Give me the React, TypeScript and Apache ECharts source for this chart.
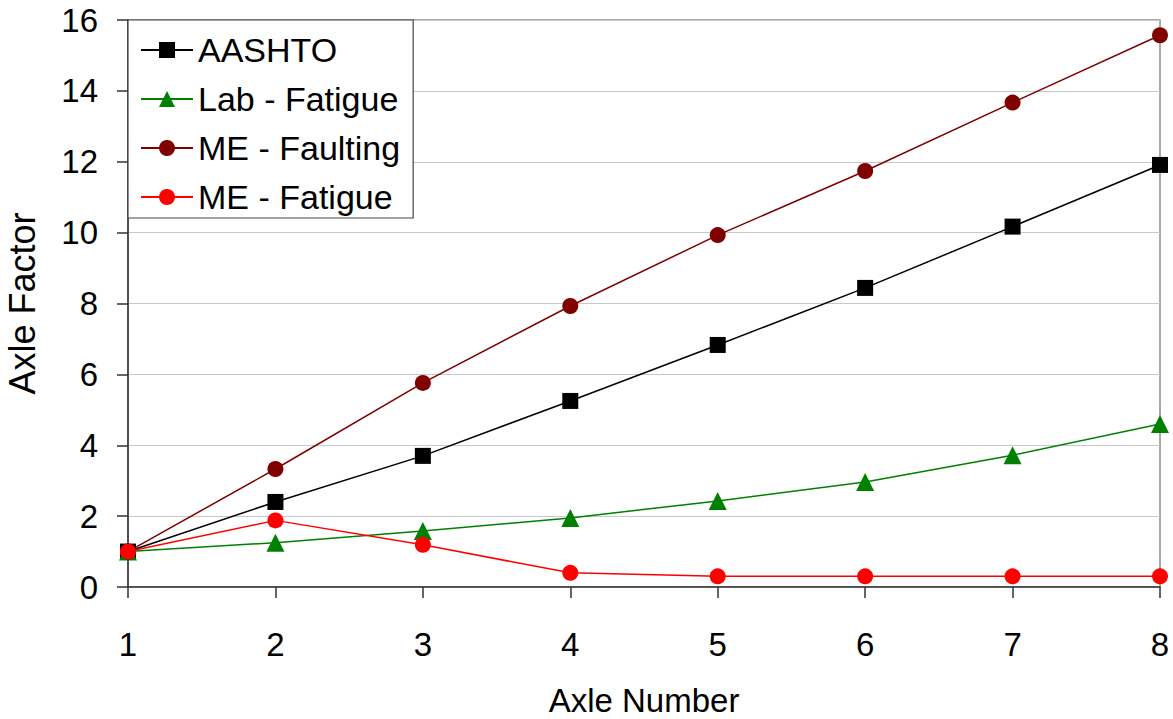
import React, { useEffect, useRef } from "react";
import * as echarts from "echarts";

const axleNumbers = [1, 2, 3, 4, 5, 6, 7, 8];
const aashto = [1.0, 2.4, 3.7, 5.25, 6.83, 8.44, 10.17, 11.91];
const labFatigue = [1.0, 1.25, 1.58, 1.95, 2.43, 2.96, 3.72, 4.6];
const meFaulting = [1.0, 3.33, 5.76, 7.93, 9.93, 11.74, 13.67, 15.57];
const meFatigue = [1.0, 1.88, 1.19, 0.4, 0.3, 0.3, 0.3, 0.3];

const pair = (vals: number[]) => axleNumbers.map((x, i) => [x, vals[i]]);

const FONT = "Liberation Sans, Arial, sans-serif";

export default function App() {
  const ref = useRef<HTMLDivElement>(null);
  useEffect(() => {
    if (!ref.current) return;
    const chart = echarts.init(ref.current, undefined, { renderer: "svg" });
    const mk = (name: string, data: number[], color: string, symbol: string, size: number) => ({
      name,
      type: "line",
      data: pair(data),
      symbol,
      symbolSize: size,
      showSymbol: true,
      lineStyle: { color, width: 1.5 },
      itemStyle: { color, borderWidth: 0 },
      emphasis: { disabled: true },
    });
    chart.setOption({
      animation: false,
      textStyle: { fontFamily: FONT },
      grid: {
        left: 128,
        right: 13,
        top: 20,
        bottom: 132,
        show: true,
        borderColor: "#8c8c8c",
        borderWidth: 1.5,
        containLabel: false,
        outerBoundsMode: "none",
      },
      legend: {
        orient: "vertical",
        left: 128,
        top: 20,
        backgroundColor: "#ffffff",
        borderColor: "#444444",
        borderWidth: 1.2,
        padding: [13, 13, 4, 12],
        itemWidth: 52,
        itemHeight: 20,
        itemGap: 15,
        textStyle: { fontSize: 34, color: "#000000", fontFamily: FONT, lineHeight: 34 },
        data: ["AASHTO", "Lab - Fatigue", "ME - Faulting", "ME - Fatigue"],
      },
      xAxis: {
        type: "value",
        min: 1,
        max: 8,
        interval: 1,
        name: "Axle Number",
        nameLocation: "middle",
        nameGap: 98,
        nameTextStyle: { fontSize: 33, lineHeight: 30, color: "#000000", fontFamily: FONT },
        axisLine: { show: true, lineStyle: { color: "#333333", width: 1.5 } },
        axisTick: { show: true, length: 11, inside: false, lineStyle: { color: "#333333", width: 1.5 } },
        axisLabel: { margin: 41, fontSize: 33, color: "#000000", fontFamily: FONT },
        splitLine: { show: false },
      },
      yAxis: {
        type: "value",
        min: 0,
        max: 16,
        interval: 2,
        name: "Axle Factor",
        nameLocation: "middle",
        nameGap: 88,
        nameRotate: 90,
        nameTextStyle: { fontSize: 36, color: "#000000", fontFamily: FONT },
        axisLine: { show: true, lineStyle: { color: "#333333", width: 1.5 } },
        axisTick: { show: true, length: 11, inside: false, lineStyle: { color: "#333333", width: 1.5 } },
        axisLabel: { margin: 30, fontSize: 33, color: "#000000", fontFamily: FONT },
        splitLine: { show: true, lineStyle: { color: "#c8c8c8", width: 1.2 } },
      },
      series: [
        mk("AASHTO", aashto, "#000000", "rect", 16),
        mk("Lab - Fatigue", labFatigue, "#008000", "triangle", 18),
        mk("ME - Faulting", meFaulting, "#800000", "circle", 16),
        mk("ME - Fatigue", meFatigue, "#ff0000", "circle", 16),
      ],
    });
    return () => chart.dispose();
  }, []);
  return <div ref={ref} style={{ width: 1173, height: 719, position: "absolute", left: 0, top: 0 }} />;
}
